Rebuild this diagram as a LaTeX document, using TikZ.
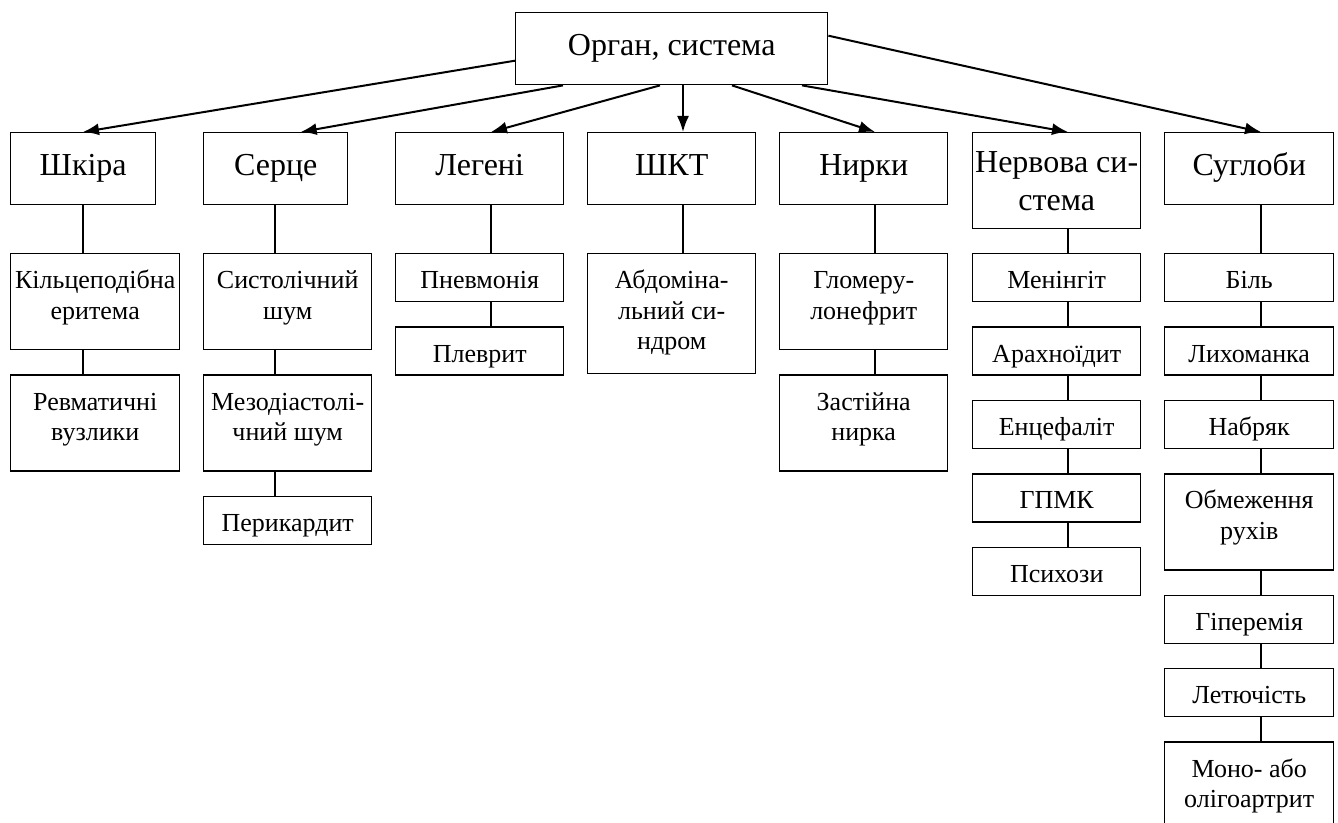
\documentclass[tikz,border=0pt]{standalone}
\usepackage{fontspec}
\setmainfont{Liberation Serif}
\usepackage{tikz}
\usetikzlibrary{positioning,arrows.meta}
\newcommand{\headtxt}{\fontsize{16}{19}\selectfont}
\newcommand{\itemtxt}{\fontsize{13}{15.3}\selectfont}

\begin{document}
\begin{tikzpicture}[
x=1pt, y=1pt,
node distance=12pt,
box/.style={draw, line width=0.7pt, align=center, inner xsep=1pt, inner ysep=0pt, minimum width=84pt},
head/.style={box, font=\headtxt, text height=21.5pt, text depth=14.5pt},
item/.style={box, font=\itemtxt, text height=17.5pt, text depth=6.5pt},
two/.style={text height=32.8pt, text depth=15.2pt},
three/.style={text height=48.1pt, text depth=11.9pt},
spine/.style={line width=0.7pt},
link/.style={line width=1pt, -{Latex[length=8pt,width=6pt]}}]

\useasboundingbox (0,0) rectangle (669,-411.5);

\node[head, anchor=north west, minimum width=156pt] (organ) at (257.5,-6) {Орган, система};

% level 1
\node[head, anchor=north west, minimum width=72.5pt] (skin) at (5,-66) {Шкіра};
\node[head, anchor=north west, minimum width=72pt] (heart) at (101.5,-66) {Серце};
\node[head, anchor=north west] (lungs) at (197.5,-66) {Легені};
\node[head, anchor=north west] (git) at (293.5,-66) {ШКТ};
\node[head, anchor=north west] (kidney) at (389.5,-66) {Нирки};
\node[head, text height=39pt, text depth=9pt, anchor=north west] (nerve) at (486,-66) {Нервова си-\\стема};
\node[head, anchor=north west, minimum width=84.5pt] (joint) at (582,-66) {Суглоби};

% level 2
\node[item, two, anchor=north west, minimum width=84.5pt] (skin1) at (5,-126.5) {Кільцеподібна\\еритема};
\node[item, two, minimum width=84.5pt, below=of skin1] (skin2) {Ревматичні\\вузлики};

\node[item, two, anchor=north west] (heart1) at (101.5,-126.5) {Систолічний\\шум};
\node[item, two, below=of heart1] (heart2) {Мезодіастолі-\\чний шум};
\node[item, below=of heart2] (heart3) {Перикардит};

\node[item, anchor=north west] (lungs1) at (197.5,-126.5) {Пневмонія};
\node[item, below=of lungs1] (lungs2) {Плеврит};

\node[item, three, anchor=north west] (git1) at (293.5,-126.5) {Абдоміна-\\льний си-\\ндром};

\node[item, two, anchor=north west] (kidney1) at (389.5,-126.5) {Гломеру-\\лонефрит};
\node[item, two, below=of kidney1] (kidney2) {Застійна\\нирка};

\node[item, anchor=north west] (nerve1) at (486,-126.5) {Менінгіт};
\node[item, below=of nerve1] (nerve2) {Арахноїдит};
\node[item, below=of nerve2] (nerve3) {Енцефаліт};
\node[item, below=of nerve3] (nerve4) {ГПМК};
\node[item, below=of nerve4] (nerve5) {Психози};

\node[item, anchor=north west, minimum width=84.5pt] (joint1) at (582,-126.5) {Біль};
\node[item, minimum width=84.5pt, below=of joint1] (joint2) {Лихоманка};
\node[item, minimum width=84.5pt, below=of joint2] (joint3) {Набряк};
\node[item, two, minimum width=84.5pt, below=of joint3] (joint4) {Обмеження\\рухів};
\node[item, minimum width=84.5pt, below=of joint4] (joint5) {Гіперемія};
\node[item, minimum width=84.5pt, below=of joint5] (joint6) {Летючість};
\node[item, two, minimum width=84.5pt, below=of joint6] (joint7) {Моно- або\\олігоартрит};

% spines of the columns
\coordinate (x1) at (41.5,0);
\coordinate (x2) at (137.5,0);
\coordinate (x3) at (245.5,0);
\coordinate (x4) at (341.5,0);
\coordinate (x5) at (437.5,0);
\coordinate (x6) at (534,0);
\coordinate (x7) at (630.5,0);

% arrows from the top
\draw[link] ([yshift=-6pt]organ.west) -- (skin.north -| x1);
\draw[link] ([xshift=24pt]organ.south west) -- ([xshift=12.5pt]heart.north);
\draw[link] ([xshift=72.5pt]organ.south west) -- (lungs.north -| x3);
\draw[link] (organ.south -| x4) -- (git.north -| x4);
\draw[link] ([xshift=108.5pt]organ.south west) -- (kidney.north -| x5);
\draw[link] ([xshift=143.5pt]organ.south west) -- (nerve.north -| x6);
\draw[link] ([yshift=6.5pt]organ.east) -- (joint.north -| x7);

% connectors
\draw[spine] (skin.south -| x1) -- (skin1.north -| x1);
\draw[spine] (skin1.south -| x1) -- (skin2.north -| x1);

\draw[spine] (heart.south -| x2) -- (heart1.north -| x2);
\draw[spine] (heart1.south -| x2) -- (heart2.north -| x2);
\draw[spine] (heart2.south -| x2) -- (heart3.north -| x2);

\draw[spine] (lungs.south -| x3) -- (lungs1.north -| x3);
\draw[spine] (lungs1.south -| x3) -- (lungs2.north -| x3);

\draw[spine] (git.south -| x4) -- (git1.north -| x4);

\draw[spine] (kidney.south -| x5) -- (kidney1.north -| x5);
\draw[spine] (kidney1.south -| x5) -- (kidney2.north -| x5);

\draw[spine] (nerve.south -| x6) -- (nerve1.north -| x6);
\draw[spine] (nerve1.south -| x6) -- (nerve2.north -| x6);
\draw[spine] (nerve2.south -| x6) -- (nerve3.north -| x6);
\draw[spine] (nerve3.south -| x6) -- (nerve4.north -| x6);
\draw[spine] (nerve4.south -| x6) -- (nerve5.north -| x6);

\draw[spine] (joint.south -| x7) -- (joint1.north -| x7);
\draw[spine] (joint1.south -| x7) -- (joint2.north -| x7);
\draw[spine] (joint2.south -| x7) -- (joint3.north -| x7);
\draw[spine] (joint3.south -| x7) -- (joint4.north -| x7);
\draw[spine] (joint4.south -| x7) -- (joint5.north -| x7);
\draw[spine] (joint5.south -| x7) -- (joint6.north -| x7);
\draw[spine] (joint6.south -| x7) -- (joint7.north -| x7);
\end{tikzpicture}
\end{document}
